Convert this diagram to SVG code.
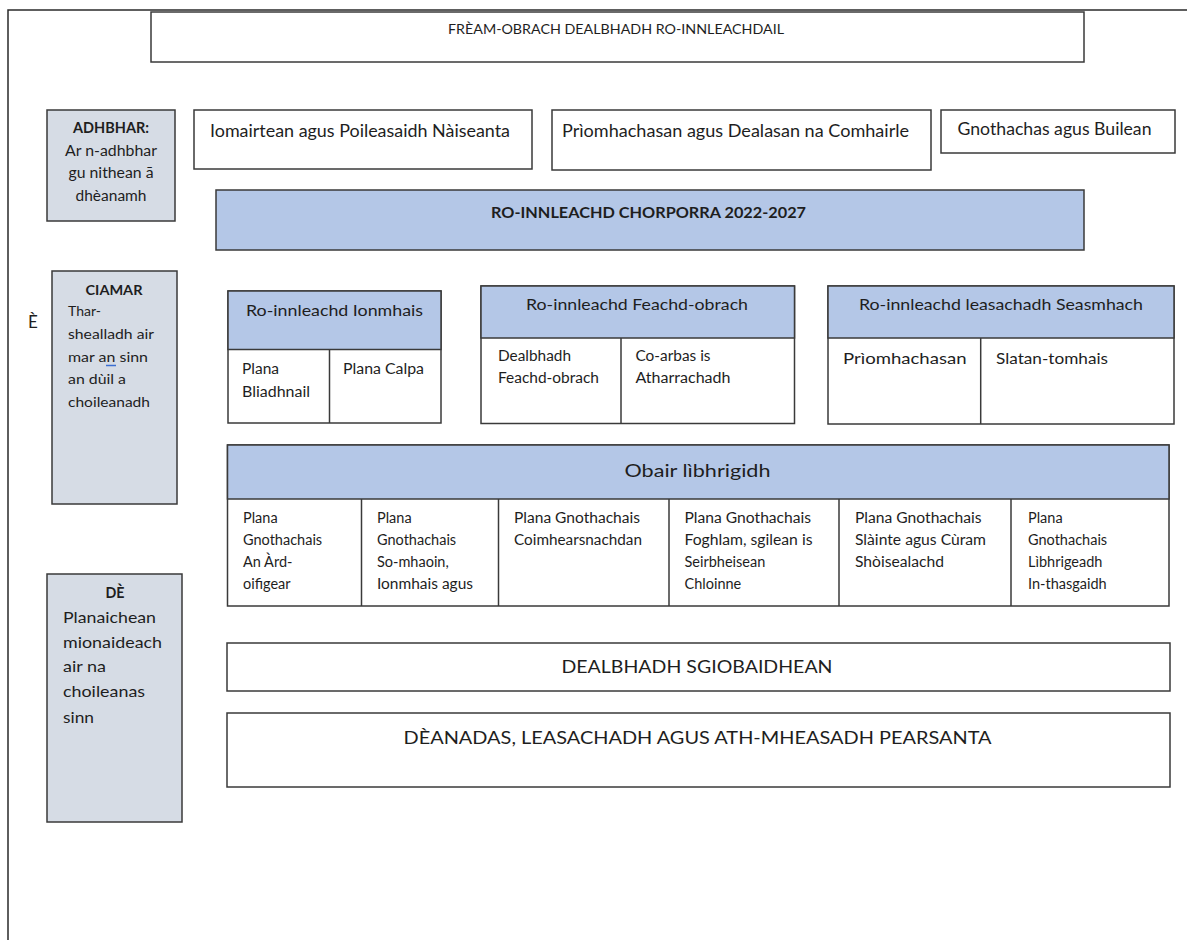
<svg xmlns="http://www.w3.org/2000/svg" width="1187" height="940" viewBox="0 0 1187 940">
<style>
.box{fill:#ffffff;stroke:#3a3a3a;stroke-width:1.5}
.side{fill:#d6dce5;stroke:#3a3a3a;stroke-width:1.5}
.hdr{fill:#b4c7e7;stroke:#3a3a3a;stroke-width:1.5}
.div{stroke:#3a3a3a;stroke-width:1.5;fill:none}
text{font-family:Lato,"Liberation Sans",sans-serif;fill:#1e1e1e}
.b{font-weight:bold}
.c{text-anchor:middle}
.t13{font-size:14.5px}
.t14{font-size:14.5px}
.t16{font-size:16px}
.t17{font-size:17px}
</style>
<rect width="1187" height="940" fill="#ffffff"/>
<g id="frame"><path d="M8,940 V10 H1187" fill="none" stroke="#2a2a2a" stroke-width="1.5"/></g>
<g id="connectors"/>

<g id="title">
<rect class="box" x="151" y="12" width="933" height="50"/>
<text class="c" x="616" y="34" font-size="13" textLength="336" lengthAdjust="spacingAndGlyphs">FRÈAM-OBRACH DEALBHADH RO-INNLEACHDAIL</text>
</g>

<g id="adhbhar">
<rect class="side" x="47" y="110" width="128" height="111"/>
<text class="c b t13" x="111" y="133" textLength="76" lengthAdjust="spacingAndGlyphs">ADHBHAR:</text>
<text class="c t13" x="111" y="156" textLength="92" lengthAdjust="spacingAndGlyphs">Ar n-adhbhar</text>
<text class="c t13" x="111" y="178" textLength="85" lengthAdjust="spacingAndGlyphs">gu nithean ā</text>
<text class="c t13" x="111" y="201" textLength="71" lengthAdjust="spacingAndGlyphs">dhèanamh</text>
</g>

<g id="iomairtean">
<rect class="box" x="194" y="110" width="338" height="59"/>
<text class="t17" x="210" y="137" textLength="300" lengthAdjust="spacingAndGlyphs">Iomairtean agus Poileasaidh Nàiseanta</text>
</g>

<g id="priomhachasan-comhairle">
<rect class="box" x="552" y="110" width="379" height="60"/>
<text class="t17" x="562" y="137" textLength="347" lengthAdjust="spacingAndGlyphs">Prìomhachasan agus Dealasan na Comhairle</text>
</g>

<g id="gnothachas">
<rect class="box" x="941" y="110" width="234" height="43"/>
<text class="t17" x="957.5" y="135" textLength="194" lengthAdjust="spacingAndGlyphs">Gnothachas agus Builean</text>
</g>

<g id="ro-innleachd-chorporra">
<rect class="hdr" x="216" y="190" width="868" height="60"/>
<text class="c b" x="648.5" y="218" font-size="15" textLength="315" lengthAdjust="spacingAndGlyphs">RO-INNLEACHD CHORPORRA 2022-2027</text>
</g>

<g id="e-mark">
<text x="28" y="328" font-size="17">È</text>
</g>

<g id="ciamar">
<rect class="side" x="52" y="271" width="125" height="233"/>
<text class="c b" x="114" y="295" font-size="14" textLength="57" lengthAdjust="spacingAndGlyphs">CIAMAR</text>
<text x="68" y="316" font-size="14" textLength="33" lengthAdjust="spacingAndGlyphs">Thar-</text>
<text x="68" y="339" font-size="14" textLength="86" lengthAdjust="spacingAndGlyphs">shealladh air</text>
<text x="68" y="362" font-size="14" textLength="80" lengthAdjust="spacingAndGlyphs">mar an sinn</text>
<line x1="106" y1="365.5" x2="116" y2="365.5" stroke="#3b6fd1" stroke-width="1.5"/>
<text x="68" y="384" font-size="14" textLength="58" lengthAdjust="spacingAndGlyphs">an dùil a</text>
<text x="68" y="407" font-size="14" textLength="82" lengthAdjust="spacingAndGlyphs">choileanadh</text>
</g>

<g id="ionmhais">
<rect class="box" x="228" y="291" width="213" height="132"/>
<rect class="hdr" x="228" y="291" width="213" height="58.5"/>
<line class="div" x1="329.5" y1="349.5" x2="329.5" y2="423"/>
<text class="c t16" x="334.5" y="316" textLength="177" lengthAdjust="spacingAndGlyphs">Ro-innleachd Ionmhais</text>
<text class="t14" x="242" y="374" textLength="37" lengthAdjust="spacingAndGlyphs">Plana</text>
<text class="t14" x="242" y="396.5" textLength="68" lengthAdjust="spacingAndGlyphs">Bliadhnail</text>
<text class="t14" x="343" y="374" textLength="81" lengthAdjust="spacingAndGlyphs">Plana Calpa</text>
</g>

<g id="feachd-obrach">
<rect class="box" x="481" y="286" width="313.5" height="137.5"/>
<rect class="hdr" x="481" y="286" width="313.5" height="52"/>
<line class="div" x1="621" y1="338" x2="621" y2="423.5"/>
<text class="c t16" x="637" y="310" textLength="222" lengthAdjust="spacingAndGlyphs">Ro-innleachd Feachd-obrach</text>
<text class="t14" x="498" y="361" textLength="73" lengthAdjust="spacingAndGlyphs">Dealbhadh</text>
<text class="t14" x="498" y="383" textLength="101" lengthAdjust="spacingAndGlyphs">Feachd-obrach</text>
<text class="t14" x="635.5" y="361" textLength="75" lengthAdjust="spacingAndGlyphs">Co-arbas is</text>
<text class="t14" x="635.5" y="383" textLength="95" lengthAdjust="spacingAndGlyphs">Atharrachadh</text>
</g>

<g id="leasachadh-seasmhach">
<rect class="box" x="828" y="286" width="346" height="138"/>
<rect class="hdr" x="828" y="286" width="346" height="52"/>
<line class="div" x1="980.7" y1="338" x2="980.7" y2="424"/>
<text class="c t16" x="1001" y="310" textLength="284" lengthAdjust="spacingAndGlyphs">Ro-innleachd leasachadh Seasmhach</text>
<text class="t16" x="843" y="364" textLength="123.5" lengthAdjust="spacingAndGlyphs">Prìomhachasan</text>
<text class="t16" x="996" y="364" textLength="112" lengthAdjust="spacingAndGlyphs">Slatan-tomhais</text>
</g>

<g id="obair-libhrigidh">
<rect class="box" x="227.5" y="445" width="941.5" height="161"/>
<rect class="hdr" x="227.5" y="445" width="941.5" height="54"/>
<line class="div" x1="361.5" y1="499" x2="361.5" y2="606"/>
<line class="div" x1="498.5" y1="499" x2="498.5" y2="606"/>
<line class="div" x1="669" y1="499" x2="669" y2="606"/>
<line class="div" x1="839" y1="499" x2="839" y2="606"/>
<line class="div" x1="1011" y1="499" x2="1011" y2="606"/>
<text class="c" x="697.5" y="477" font-size="18" textLength="146" lengthAdjust="spacingAndGlyphs">Obair lìbhrigidh</text>
<text class="t14" x="243" y="522.5">Plana</text>
<text class="t14" x="243" y="545">Gnothachais</text>
<text class="t14" x="243" y="567">An Àrd-</text>
<text class="t14" x="243" y="589">oifigear</text>
<text class="t14" x="377" y="522.5">Plana</text>
<text class="t14" x="377" y="545">Gnothachais</text>
<text class="t14" x="377" y="567">So-mhaoin,</text>
<text class="t14" x="377" y="589" textLength="96" lengthAdjust="spacingAndGlyphs">Ionmhais agus</text>
<text class="t14" x="514" y="522.5" textLength="126" lengthAdjust="spacingAndGlyphs">Plana Gnothachais</text>
<text class="t14" x="514" y="545" textLength="128" lengthAdjust="spacingAndGlyphs">Coimhearsnachdan</text>
<text class="t14" x="684.5" y="522.5" textLength="126.6" lengthAdjust="spacingAndGlyphs">Plana Gnothachais</text>
<text class="t14" x="684.5" y="545" textLength="128" lengthAdjust="spacingAndGlyphs">Foghlam, sgilean is</text>
<text class="t14" x="684.5" y="567">Seirbheisean</text>
<text class="t14" x="684.5" y="589">Chloinne</text>
<text class="t14" x="855" y="522.5" textLength="126.6" lengthAdjust="spacingAndGlyphs">Plana Gnothachais</text>
<text class="t14" x="855" y="545" textLength="131" lengthAdjust="spacingAndGlyphs">Slàinte agus Cùram</text>
<text class="t14" x="855" y="567" textLength="89" lengthAdjust="spacingAndGlyphs">Shòisealachd</text>
<text class="t14" x="1028" y="522.5">Plana</text>
<text class="t14" x="1028" y="545">Gnothachais</text>
<text class="t14" x="1028" y="567">Lìbhrigeadh</text>
<text class="t14" x="1028" y="589">In-thasgaidh</text>
</g>

<g id="de">
<rect class="side" x="47" y="574" width="135" height="248"/>
<text class="c b" x="115" y="598" font-size="15" textLength="19" lengthAdjust="spacingAndGlyphs">DÈ</text>
<text class="t16" x="63" y="623" textLength="93" lengthAdjust="spacingAndGlyphs">Planaichean</text>
<text class="t16" x="63" y="648" textLength="99" lengthAdjust="spacingAndGlyphs">mionaideach</text>
<text class="t16" x="63" y="672" textLength="43" lengthAdjust="spacingAndGlyphs">air na</text>
<text class="t16" x="63" y="697" textLength="82" lengthAdjust="spacingAndGlyphs">choileanas</text>
<text class="t16" x="63" y="723" textLength="31" lengthAdjust="spacingAndGlyphs">sinn</text>
</g>

<g id="dealbhadh-sgiobaidhean">
<rect class="box" x="227" y="643" width="943" height="48"/>
<text class="c" x="697" y="673" font-size="17.5" textLength="271" lengthAdjust="spacingAndGlyphs">DEALBHADH SGIOBAIDHEAN</text>
</g>

<g id="deanadas">
<rect class="box" x="227" y="713" width="943" height="74"/>
<text class="c" x="697.5" y="744" font-size="17.5" textLength="588" lengthAdjust="spacingAndGlyphs">DÈANADAS, LEASACHADH AGUS ATH-MHEASADH PEARSANTA</text>
</g>
</svg>
